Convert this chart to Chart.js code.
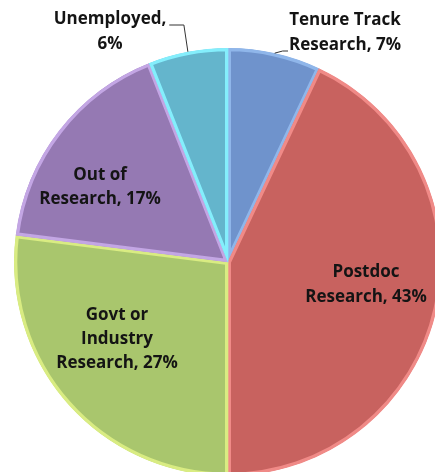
<!DOCTYPE html>
<html>
<head>
<meta charset="utf-8">
<script src="https://cdn.jsdelivr.net/npm/chart.js@4.4.0/dist/chart.umd.min.js"></script>
<style>
  html, body { margin: 0; padding: 0; background: #fff; overflow: hidden; }
  #wrap { position: relative; width: 450px; height: 480px; }
</style>
</head>
<body>
<div id="wrap"><canvas id="c" width="450" height="480"></canvas></div>
<script>
// ---- data ----
const categories = ["Tenure Track Research", "Postdoc Research", "Govt or Industry Research", "Out of Research", "Unemployed"];
const values = [7, 43, 27, 17, 6];
const labelLines = [
  ["Tenure Track", "Research, 7%"],
  ["Postdoc", "Research, 43%"],
  ["Govt or", "Industry", "Research, 27%"],
  ["Out of", "Research, 17%"],
  ["Unemployed,", "6%"]
];
// ---- styles ----
const fillColors = ["#6f93cc", "#c8625f", "#a9c66d", "#9579b3", "#64b5cc"];
const borderColors = ["#8fb6ea", "#f08a87", "#d9ec82", "#c3a6e4", "#84eefc"];
const labelLayout = [
  { x: 345, y: 20, lh: 25, outside: true, side: "right" },
  { x: 366, y: 272, lh: 25 },
  { x: 117, y: 315, lh: 24 },
  { x: 100, y: 175, lh: 24 },
  { x: 110, y: 19, lh: 25, outside: true, side: "left" }
];

const labelPlugin = {
  id: "sliceLabels",
  afterDatasetsDraw(chart) {
    const ctx = chart.ctx;
    const meta = chart.getDatasetMeta(0);
    ctx.save();
    ctx.font = "bold 17px 'Open Sans'";
    ctx.fillStyle = "#141414";
    ctx.textAlign = "center";
    ctx.textBaseline = "middle";
    meta.data.forEach((arc, i) => {
      const L = labelLayout[i];
      const lines = labelLines[i];
      lines.forEach((t, k) => ctx.fillText(t, L.x, L.y + k * L.lh));
      if (L.outside) {
        const mid = (arc.startAngle + arc.endAngle) / 2;
        const ax = arc.x + Math.cos(mid) * arc.outerRadius;
        const ay = arc.y + Math.sin(mid) * arc.outerRadius;
        ctx.strokeStyle = "#333";
        ctx.lineWidth = 1;
        ctx.beginPath();
        if (L.side === "left") {
          const w = ctx.measureText(lines[0]).width;
          const ex = L.x + w / 2 + 3;
          const ey = L.y + 6;
          ctx.moveTo(ex, ey);
          ctx.lineTo(ax - 4, ey);
          ctx.lineTo(ax, ay);
        } else {
          const w = ctx.measureText(lines[1]).width;
          const ex = L.x - w / 2 - 1;
          const ey = L.y + L.lh + 6;
          ctx.moveTo(ax, ay);
          ctx.lineTo(ax + 8, ey);
          ctx.lineTo(ex, ey);
        }
        ctx.stroke();
      }
    });
    ctx.restore();
  }
};

new Chart(document.getElementById("c"), {
  type: "pie",
  data: {
    labels: categories,
    datasets: [{
      data: values,
      backgroundColor: fillColors,
      borderColor: borderColors,
      borderWidth: 3,
      borderAlign: "inner"
    }]
  },
  options: {
    responsive: false,
    animation: false,
    layout: { padding: { left: 14, right: 8, top: 48, bottom: 4 } },
    plugins: { legend: { display: false }, tooltip: { enabled: false } }
  },
  plugins: [labelPlugin]
});
</script>
</body>
</html>
